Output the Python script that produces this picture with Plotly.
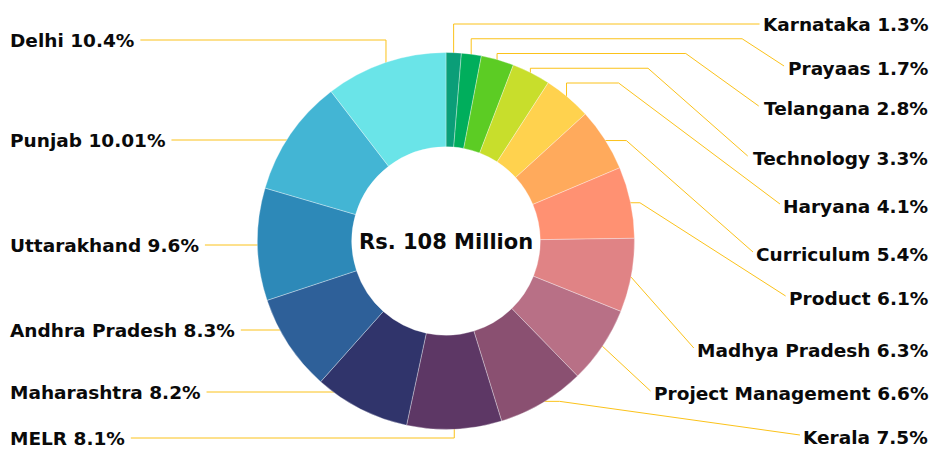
import glob
import math
import os
import struct

import plotly.graph_objects as go

# ---------------- data ----------------
categories = ["Karnataka", "Prayaas", "Telangana", "Technology", "Haryana",
              "Curriculum", "Product", "Madhya Pradesh", "Project Management",
              "Kerala", "MELR", "Maharashtra", "Andhra Pradesh", "Uttarakhand",
              "Punjab", "Delhi"]
shares = [1.3, 1.7, 2.8, 3.3, 4.1, 5.4, 6.1, 6.3, 6.6, 7.5, 8.1, 8.2, 8.3,
          9.6, 10.01, 10.4]
center_text = "Rs. 108 Million"

# ---------------- style / layout ----------------
colors = ["#0B9E78", "#00AE5C", "#5CCC24", "#C8DE2C", "#FFD24E", "#FFAA5C",
          "#FF9172", "#E08385", "#B87086", "#8A5071", "#5D3765", "#30346B",
          "#2E6099", "#2D89B8", "#43B5D4", "#6AE4E8"]
W, H = 936, 452
CX, CY, R = 446, 241, 188.5
HOLE = 0.5
FONT = "DejaVu Sans"
LABEL_SIZE = 18.5
CENTER_SIZE = 21
TEXT_COLOR = "#0A0A0A"
LINE_COLOR = "#FBC21A"
RIGHT_EDGE = 930
LEFT_EDGE = 8
N_RIGHT = 10
right_label_y = [24, 68, 108, 158, 206, 254, 298, 350, 393, 437]
right_slopes = [0, 0.65, 0.72, 0.88, 0.75, 0.88, 0.64, 0.75, 0.75, 0.14]
STAIR_TOP, STAIR_STEP, STAIR_N = 24, 14.75, 5
left_label_y = [438, 392, 330, 245, 140, 40]   # MELR ... Delhi


# ---------------- text width measurement (from font file) ----------------
def load_font_metrics():
    pats = ["/usr/share/fonts/**/DejaVuSans-Bold.ttf",
            "/usr/local/share/fonts/**/DejaVuSans-Bold.ttf",
            os.path.expanduser("~/.fonts/**/DejaVuSans-Bold.ttf"),
            os.path.expanduser("~/.local/share/fonts/**/DejaVuSans-Bold.ttf")]
    path = None
    for p in pats:
        found = glob.glob(p, recursive=True)
        if found:
            path = found[0]
            break
    if path is None:
        return None
    data = open(path, "rb").read()
    num = struct.unpack(">H", data[4:6])[0]
    tables = {}
    for i in range(num):
        tag, _, off, ln = struct.unpack(">4sIII", data[12 + 16 * i:28 + 16 * i])
        tables[tag.decode("latin1")] = off
    upem = struct.unpack(">H", data[tables["head"] + 18:tables["head"] + 20])[0]
    nhm = struct.unpack(">H", data[tables["hhea"] + 34:tables["hhea"] + 36])[0]
    hm = tables["hmtx"]
    adv = [struct.unpack(">H", data[hm + 4 * i:hm + 4 * i + 2])[0] for i in range(nhm)]
    cm = tables["cmap"]
    n = struct.unpack(">H", data[cm + 2:cm + 4])[0]
    sub = None
    for i in range(n):
        pid, eid, off = struct.unpack(">HHI", data[cm + 4 + 8 * i:cm + 12 + 8 * i])
        fmt = struct.unpack(">H", data[cm + off:cm + off + 2])[0]
        if fmt == 4:
            sub = cm + off
            break
    if sub is None:
        return None
    segx2 = struct.unpack(">H", data[sub + 6:sub + 8])[0]
    seg = segx2 // 2
    ends = struct.unpack(">%dH" % seg, data[sub + 14:sub + 14 + segx2])
    starts = struct.unpack(">%dH" % seg, data[sub + 16 + segx2:sub + 16 + 2 * segx2])
    deltas = struct.unpack(">%dh" % seg, data[sub + 16 + 2 * segx2:sub + 16 + 3 * segx2])
    rpos = sub + 16 + 3 * segx2
    roffs = struct.unpack(">%dH" % seg, data[rpos:rpos + segx2])

    def gid(c):
        for i in range(seg):
            if starts[i] <= c <= ends[i]:
                if roffs[i] == 0:
                    return (c + deltas[i]) & 0xFFFF
                addr = rpos + 2 * i + roffs[i] + 2 * (c - starts[i])
                g = struct.unpack(">H", data[addr:addr + 2])[0]
                return (g + deltas[i]) & 0xFFFF if g else 0
        return 0

    return lambda ch: adv[min(gid(ord(ch)), nhm - 1)] / upem


try:
    _adv = load_font_metrics()
except Exception:
    _adv = None


def text_width(s, size):
    if _adv is None:
        return len(s) * 0.66 * size
    return sum(_adv(ch) for ch in s) * size


# ---------------- geometry from data ----------------
total = sum(shares)
mid_pts = []
cum = 0.0
for v in shares:
    a = math.radians((cum + v / 2) / total * 360)
    rr = R - 2
    mid_pts.append((CX + rr * math.sin(a), CY - rr * math.cos(a)))
    cum += v

label_texts = [f"{c} {v:g}%" for c, v in zip(categories, shares)]

lx, ly = [], []
annotations = []

# right side
for i in range(N_RIGHT):
    px, py = mid_pts[i]
    yl = right_label_y[i]
    w = text_width(label_texts[i], LABEL_SIZE)
    ex = RIGHT_EDGE - w - 5
    h = STAIR_TOP + STAIR_STEP * i if i < STAIR_N else py
    slope = right_slopes[i]
    if slope == 0:
        pts = [(px, py), (px, h), (ex, h)]
    else:
        ey = yl - 2
        xe = ex - (ey - h) / slope
        if xe <= px:
            pts = [(px, py), (ex, ey)]
        else:
            pts = [(px, py), (px, h), (xe, h), (ex, ey)]
    for x, y in pts:
        lx.append(x)
        ly.append(y)
    lx.append(None)
    ly.append(None)
    annotations.append(dict(x=RIGHT_EDGE, y=yl, xref="x", yref="y",
                            text=label_texts[i], showarrow=False,
                            xanchor="right", yanchor="middle"))

# left side
for j, k in enumerate(range(N_RIGHT, len(shares))):
    yl = left_label_y[j]
    w = text_width(label_texts[k], LABEL_SIZE)
    sx = LEFT_EDGE + w + 8
    dy = yl - CY
    if abs(dy) < R * 0.97:
        cx_edge = CX - math.sqrt(R * R - dy * dy) + 2
        pts = [(sx, yl), (cx_edge, yl)]
    else:
        px, py = mid_pts[k]
        pts = [(sx, yl), (px, yl), (px, py)]
    for x, y in pts:
        lx.append(x)
        ly.append(y)
    lx.append(None)
    ly.append(None)
    annotations.append(dict(x=LEFT_EDGE, y=yl, xref="x", yref="y",
                            text=label_texts[k], showarrow=False,
                            xanchor="left", yanchor="middle"))

annotations.append(dict(x=CX, y=CY + 1, xref="x", yref="y", text=center_text,
                        showarrow=False, xanchor="center", yanchor="middle",
                        font=dict(family=FONT, size=CENTER_SIZE,
                                  color=TEXT_COLOR, weight="bold")))

fig = go.Figure()
fig.add_trace(go.Scatter(x=lx, y=ly, mode="lines",
                         line=dict(color=LINE_COLOR, width=1),
                         hoverinfo="skip", showlegend=False, cliponaxis=False))
fig.add_trace(go.Pie(values=shares, labels=categories, sort=False,
                     direction="clockwise", rotation=0, hole=HOLE,
                     textinfo="none", showlegend=False,
                     marker=dict(colors=colors,
                                 line=dict(color="rgba(255,255,255,0.55)", width=0.6)),
                     domain=dict(x=[(CX - R) / W, (CX + R) / W],
                                 y=[(H - CY - R) / H, (H - CY + R) / H])))

fig.update_layout(
    width=W, height=H,
    margin=dict(l=0, r=0, t=0, b=0),
    paper_bgcolor="white", plot_bgcolor="white",
    xaxis=dict(range=[0, W], visible=False, fixedrange=True),
    yaxis=dict(range=[H, 0], visible=False, fixedrange=True),
    font=dict(family=FONT, size=LABEL_SIZE, color=TEXT_COLOR, weight="bold"),
    annotations=annotations,
    showlegend=False,
)

fig.write_html("out.html")
